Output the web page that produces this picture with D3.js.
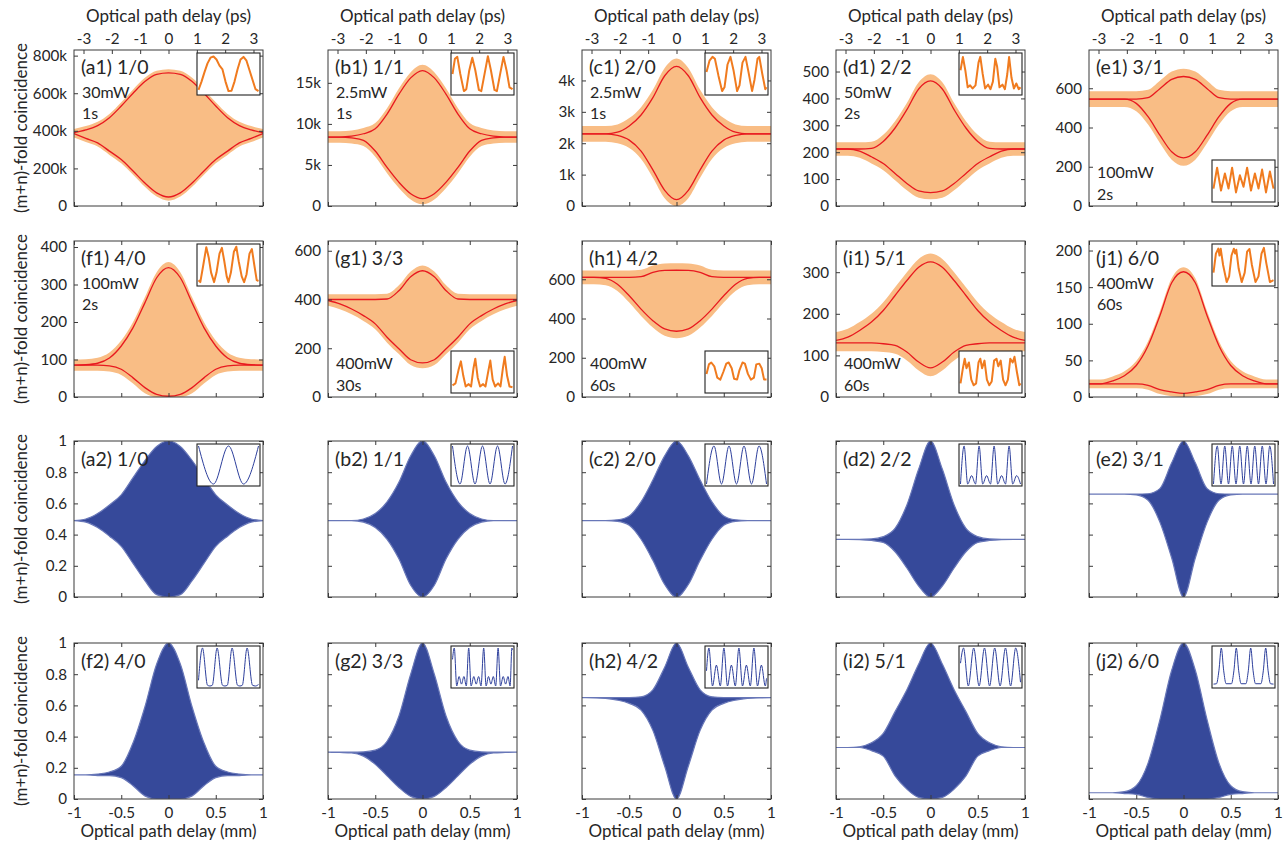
<!DOCTYPE html>
<html>
<head>
<meta charset="utf-8">
<script src="https://cdn.jsdelivr.net/npm/d3@7"></script>
<style>
body { margin: 0; background: #fff; }
svg { display: block; }
</style>
</head>
<body>
<svg id="fig" width="1284" height="846"></svg>
<script>
// optical path delay grid (mm) shared by every envelope below
var delayMm = [-1, -0.875, -0.75, -0.625, -0.5, -0.375, -0.25, -0.125, 0, 0.125, 0.25, 0.375, 0.5, 0.625, 0.75, 0.875, 1];
var mmTicks = [-1, -0.5, 0, 0.5, 1];
var psTicks = [-3, -2, -1, 0, 1, 2, 3];

// ---- measured panels: red envelope fits + spread of the raw counts ----
// a1, b1, c1 in thousands of counts
var a1Up = [390, 405, 428, 470, 532, 600, 662, 700, 708, 700, 662, 600, 532, 470, 428, 405, 390];
var a1Lo = [385, 360, 336, 292, 247, 186, 122, 70, 48, 70, 122, 186, 247, 292, 336, 360, 385];
var a1Noise = 20;
var b1Up = [8.4, 8.4, 8.5, 8.8, 9.4, 11.2, 13.6, 15.6, 16.5, 15.6, 13.6, 11.2, 9.4, 8.8, 8.5, 8.4, 8.4];
var b1Lo = [8.4, 8.4, 8.3, 8.0, 6.7, 4.7, 2.9, 1.5, 0.9, 1.5, 2.9, 4.7, 6.7, 8.0, 8.3, 8.4, 8.4];
var b1Noise = 0.7;
var c1Up = [2.3, 2.3, 2.3, 2.35, 2.55, 2.9, 3.45, 4.15, 4.45, 4.15, 3.45, 2.9, 2.55, 2.35, 2.3, 2.3, 2.3];
var c1Lo = [2.3, 2.3, 2.3, 2.25, 2.1, 1.75, 1.15, 0.5, 0.2, 0.5, 1.15, 1.75, 2.1, 2.25, 2.3, 2.3, 2.3];
var c1Noise = 0.25;
var d1Up = [212, 212, 212, 214, 240, 290, 358, 435, 465, 435, 358, 290, 240, 214, 212, 212, 212];
var d1Lo = [212, 212, 204, 183, 158, 121, 84, 56, 50, 56, 84, 121, 158, 183, 204, 212, 212];
var d1Noise = 25;
var e1Up = [545, 545, 545, 545, 545, 552, 598, 645, 660, 645, 598, 552, 545, 545, 545, 545, 545];
var e1Lo = [545, 545, 545, 545, 523, 455, 361, 276, 245, 276, 361, 455, 523, 545, 545, 545, 545];
var e1Noise = 40;
var f1Up = [85, 86, 90, 104, 136, 185, 251, 318, 345, 318, 251, 185, 136, 104, 90, 86, 85];
var f1Lo = [85, 85, 85, 83, 74, 51, 25, 7, 2, 7, 25, 51, 74, 83, 85, 85, 85];
var f1Noise = 15;
var g1Up = [400, 400, 400, 400, 400, 402, 436, 493, 518, 493, 436, 402, 400, 400, 400, 400, 400];
var g1Lo = [396, 382, 361, 334, 300, 245, 198, 153, 140, 153, 198, 245, 300, 334, 361, 382, 396];
var g1Noise = 22;
var h1Up = [610, 610, 610, 610, 610, 613, 635, 645, 646, 645, 635, 613, 610, 610, 610, 610, 610];
var h1Lo = [610, 610, 605, 575, 516, 448, 389, 347, 335, 347, 389, 448, 516, 575, 605, 610, 610];
var h1Noise = 35;
var i1Up = [136, 144, 160, 180, 208, 244, 280, 312, 325, 312, 280, 244, 208, 180, 160, 144, 136];
var i1Lo = [130, 130, 130, 130, 128, 124, 108, 84, 70, 84, 108, 124, 128, 130, 130, 130, 130];
var i1Noise = 20;
var j1Up = [18, 18, 22, 29, 43, 70, 111, 156, 171, 156, 111, 70, 43, 29, 22, 18, 18];
var j1Lo = [18, 18, 18, 18, 18, 16, 10, 7, 5, 7, 10, 16, 18, 18, 18, 18, 18];
var j1Noise = 6;

// ---- simulated panels: normalised envelopes ----
var a2Up = [0.49, 0.50, 0.535, 0.59, 0.655, 0.765, 0.875, 0.965, 1, 0.965, 0.875, 0.765, 0.655, 0.59, 0.535, 0.50, 0.49];
var a2Lo = [0.49, 0.48, 0.445, 0.39, 0.325, 0.215, 0.105, 0.015, 0, 0.015, 0.105, 0.215, 0.325, 0.39, 0.445, 0.48, 0.49];
var b2Up = [0.49, 0.49, 0.49, 0.50, 0.535, 0.61, 0.735, 0.905, 1, 0.905, 0.735, 0.61, 0.535, 0.50, 0.49, 0.49, 0.49];
var b2Lo = [0.49, 0.49, 0.49, 0.48, 0.445, 0.37, 0.245, 0.075, 0, 0.075, 0.245, 0.37, 0.445, 0.48, 0.49, 0.49, 0.49];
var c2Up = [0.49, 0.49, 0.49, 0.495, 0.52, 0.61, 0.75, 0.905, 1, 0.905, 0.75, 0.61, 0.52, 0.495, 0.49, 0.49, 0.49];
var c2Lo = [0.49, 0.49, 0.49, 0.485, 0.46, 0.37, 0.235, 0.08, 0, 0.08, 0.235, 0.37, 0.46, 0.485, 0.49, 0.49, 0.49];
var d2Up = [0.37, 0.37, 0.37, 0.372, 0.387, 0.44, 0.59, 0.82, 1, 0.82, 0.59, 0.44, 0.387, 0.372, 0.37, 0.37, 0.37];
var d2Lo = [0.37, 0.37, 0.368, 0.362, 0.35, 0.29, 0.186, 0.07, 0, 0.07, 0.186, 0.29, 0.35, 0.362, 0.368, 0.37, 0.37];
var e2Up = [0.66, 0.66, 0.66, 0.66, 0.66, 0.662, 0.695, 0.86, 1, 0.86, 0.695, 0.662, 0.66, 0.66, 0.66, 0.66, 0.66];
var e2Lo = [0.66, 0.66, 0.66, 0.66, 0.655, 0.62, 0.48, 0.25, 0, 0.25, 0.48, 0.62, 0.655, 0.66, 0.66, 0.66, 0.66];
var f2Up = [0.155, 0.155, 0.16, 0.173, 0.21, 0.36, 0.59, 0.865, 1, 0.865, 0.59, 0.36, 0.21, 0.173, 0.16, 0.155, 0.155];
var f2Lo = [0.155, 0.155, 0.15, 0.15, 0.137, 0.085, 0.02, 0, 0, 0, 0.02, 0.085, 0.137, 0.15, 0.15, 0.155, 0.155];
var g2Up = [0.30, 0.30, 0.30, 0.302, 0.313, 0.37, 0.53, 0.80, 1, 0.80, 0.53, 0.37, 0.313, 0.302, 0.30, 0.30, 0.30];
var g2Lo = [0.30, 0.298, 0.295, 0.275, 0.222, 0.148, 0.074, 0.017, 0, 0.017, 0.074, 0.148, 0.222, 0.275, 0.295, 0.298, 0.30];
var h2Up = [0.65, 0.65, 0.65, 0.65, 0.65, 0.655, 0.70, 0.845, 1, 0.845, 0.70, 0.655, 0.65, 0.65, 0.65, 0.65, 0.65];
var h2Lo = [0.65, 0.648, 0.645, 0.634, 0.613, 0.57, 0.44, 0.21, 0, 0.21, 0.44, 0.57, 0.613, 0.634, 0.645, 0.648, 0.65];
var i2Up = [0.33, 0.33, 0.335, 0.36, 0.42, 0.56, 0.70, 0.865, 1, 0.865, 0.70, 0.56, 0.42, 0.36, 0.335, 0.33, 0.33];
var i2Lo = [0.33, 0.33, 0.33, 0.31, 0.275, 0.148, 0.063, 0.01, 0, 0.01, 0.063, 0.148, 0.275, 0.31, 0.33, 0.33, 0.33];
var j2Up = [0.04, 0.04, 0.04, 0.047, 0.085, 0.23, 0.507, 0.825, 1, 0.825, 0.507, 0.23, 0.085, 0.047, 0.04, 0.04, 0.04];
var j2Lo = [0.04, 0.04, 0.04, 0.035, 0.03, 0.01, 0, 0, 0, 0, 0, 0.01, 0.03, 0.035, 0.04, 0.04, 0.04];

// ---- inset fringes [phase fraction, normalised counts] ----
var a1Inset = [[0,0.08],[0.05,0.3],[0.1,0.55],[0.15,0.78],[0.2,0.93],[0.25,0.96],[0.3,0.88],[0.35,0.72],[0.4,0.62],[0.45,0.3],[0.5,0.05],[0.55,0.06],[0.6,0.3],[0.65,0.62],[0.7,0.88],[0.75,0.95],[0.8,0.85],[0.85,0.6],[0.9,0.35],[0.95,0.1],[1,0.05]];
var b1Inset = [[0,0.5],[0.04,0.9],[0.08,0.95],[0.13,0.5],[0.19,0.05],[0.23,0.1],[0.28,0.6],[0.33,0.93],[0.38,0.6],[0.44,0.08],[0.48,0.05],[0.54,0.55],[0.59,0.97],[0.64,0.6],[0.7,0.08],[0.74,0.05],[0.8,0.55],[0.85,0.95],[0.9,0.6],[0.95,0.15],[1,0.1]];
var c1Inset = [[0,0.55],[0.05,0.85],[0.1,0.95],[0.14,0.9],[0.2,0.45],[0.26,0.05],[0.3,0.15],[0.35,0.75],[0.4,0.95],[0.45,0.6],[0.51,0.05],[0.55,0.2],[0.6,0.8],[0.65,0.95],[0.7,0.55],[0.76,0.05],[0.8,0.35],[0.85,0.9],[0.88,0.95],[0.93,0.5],[0.98,0.1],[1,0.15]];
var d1Inset = [[0,0.6],[0.04,0.95],[0.08,0.6],[0.12,0.15],[0.16,0.2],[0.2,0.12],[0.25,0.2],[0.3,0.8],[0.33,0.95],[0.37,0.5],[0.41,0.12],[0.46,0.22],[0.5,0.1],[0.54,0.3],[0.58,0.9],[0.61,0.7],[0.65,0.15],[0.7,0.22],[0.74,0.1],[0.78,0.5],[0.81,0.95],[0.85,0.4],[0.89,0.12],[0.93,0.25],[0.97,0.1],[1,0.15]];
var e1Inset = [[0,0.3],[0.06,0.85],[0.125,0.25],[0.19,0.7],[0.25,0.3],[0.31,0.85],[0.375,0.2],[0.44,0.65],[0.5,0.35],[0.56,0.85],[0.625,0.25],[0.69,0.7],[0.75,0.3],[0.81,0.8],[0.875,0.2],[0.94,0.75],[1,0.3]];
var f1Inset = [[0,0.1],[0.03,0.05],[0.08,0.5],[0.13,0.97],[0.17,0.7],[0.21,0.3],[0.26,0.05],[0.3,0.3],[0.35,0.8],[0.39,0.95],[0.43,0.6],[0.47,0.2],[0.5,0.05],[0.54,0.3],[0.59,0.85],[0.63,0.98],[0.67,0.6],[0.72,0.2],[0.76,0.05],[0.8,0.25],[0.85,0.8],[0.89,0.92],[0.93,0.5],[0.97,0.1],[1,0.08]];
var g1Inset = [[0,0.15],[0.05,0.2],[0.1,0.55],[0.14,0.78],[0.18,0.4],[0.22,0.12],[0.27,0.18],[0.31,0.12],[0.35,0.6],[0.38,0.85],[0.42,0.35],[0.46,0.12],[0.51,0.18],[0.55,0.12],[0.6,0.55],[0.63,0.8],[0.67,0.3],[0.71,0.12],[0.76,0.2],[0.8,0.12],[0.84,0.6],[0.87,0.9],[0.91,0.4],[0.95,0.12],[1,0.1]];
var h1Inset = [[0,0.45],[0.04,0.7],[0.08,0.75],[0.13,0.65],[0.18,0.35],[0.23,0.3],[0.28,0.5],[0.33,0.72],[0.37,0.75],[0.42,0.6],[0.46,0.32],[0.51,0.3],[0.55,0.55],[0.6,0.75],[0.64,0.72],[0.69,0.45],[0.74,0.3],[0.79,0.35],[0.83,0.7],[0.88,0.72],[0.92,0.6],[0.96,0.3],[1,0.3]];
var i1Inset = [[0,0.2],[0.04,0.6],[0.07,0.85],[0.1,0.6],[0.14,0.75],[0.18,0.3],[0.22,0.15],[0.26,0.2],[0.3,0.75],[0.33,0.85],[0.36,0.6],[0.4,0.8],[0.44,0.3],[0.48,0.15],[0.52,0.25],[0.56,0.8],[0.6,0.85],[0.63,0.65],[0.67,0.8],[0.71,0.3],[0.75,0.15],[0.79,0.3],[0.83,0.85],[0.87,0.75],[0.9,0.9],[0.94,0.5],[0.98,0.15],[1,0.2]];
var j1Inset = [[0,0.3],[0.04,0.8],[0.08,0.93],[0.1,0.75],[0.12,0.93],[0.16,0.5],[0.22,0.05],[0.26,0.2],[0.3,0.75],[0.34,0.93],[0.36,0.8],[0.38,0.9],[0.42,0.4],[0.47,0.05],[0.52,0.3],[0.56,0.85],[0.6,0.92],[0.64,0.5],[0.7,0.05],[0.75,0.2],[0.8,0.8],[0.84,0.95],[0.88,0.55],[0.94,0.05],[1,0.1]];

var a2Inset = [[0,1],[0.25,0],[0.5,1],[0.75,0],[1,1]];
var b2Inset = [[0,1],[0.125,0],[0.25,1],[0.375,0],[0.5,1],[0.625,0],[0.75,1],[0.875,0],[1,1]];
var c2Inset = [[0,0],[0.125,1],[0.25,0],[0.375,1],[0.5,0],[0.625,1],[0.75,0],[0.875,1],[1,0]];
var d2Inset = [[0,0],[0.06,1],[0.12,0],[0.185,0.22],[0.25,0],[0.31,1],[0.37,0],[0.435,0.22],[0.5,0],[0.56,1],[0.62,0],[0.685,0.22],[0.75,0],[0.81,1],[0.87,0],[0.935,0.22],[1,0]];
var e2Inset = [[0,0],[0.0625,1],[0.125,0],[0.1875,1],[0.25,0],[0.3125,1],[0.375,0],[0.4375,1],[0.5,0],[0.5625,1],[0.625,0],[0.6875,1],[0.75,0],[0.8125,1],[0.875,0],[0.9375,1],[1,0]];
var f2Inset = [[0,0.15],[0.066,1],[0.15,0.02],[0.19,0],[0.23,0.02],[0.31,1],[0.4,0.02],[0.44,0],[0.48,0.02],[0.56,1],[0.65,0.02],[0.69,0],[0.73,0.02],[0.81,1],[0.9,0.02],[0.95,0],[1,0.04]];
var g2Inset = [[0,0.7],[0.03,1],[0.07,0],[0.11,0.25],[0.15,0.05],[0.19,0.25],[0.23,0],[0.27,1],[0.31,0],[0.355,0.25],[0.395,0.05],[0.435,0.25],[0.475,0],[0.52,1],[0.56,0],[0.6,0.25],[0.64,0.05],[0.68,0.25],[0.72,0],[0.76,1],[0.8,0],[0.845,0.25],[0.885,0.05],[0.925,0.25],[0.96,0],[0.99,1],[1,0.95]];
var h2Inset = [[0,0.4],[0.04,1],[0.1,0],[0.165,0.55],[0.23,0],[0.29,1],[0.35,0],[0.415,0.55],[0.48,0],[0.54,1],[0.6,0],[0.665,0.55],[0.73,0],[0.79,1],[0.85,0],[0.915,0.55],[0.98,0],[1,0.2]];
var i2Inset = [[0,0.6],[0.05,1],[0.13,0],[0.22,1],[0.31,0],[0.4,1],[0.485,0],[0.57,1],[0.66,0],[0.75,1],[0.835,0],[0.92,1],[1,0.1]];
var j2Inset = [[0,0.05],[0.05,0.06],[0.09,0.4],[0.13,1],[0.17,0.4],[0.21,0.06],[0.3,0.06],[0.34,0.4],[0.38,1],[0.42,0.4],[0.46,0.06],[0.54,0.06],[0.58,0.4],[0.62,1],[0.66,0.4],[0.7,0.06],[0.79,0.06],[0.83,0.4],[0.87,1],[0.91,0.4],[0.95,0.06],[1,0.05]];

// panel tables built from the arrays above
var expPanels = [
  {id:"a1", col:0, row:0, name:"(a1) 1/0", notes:["30mW","1s"], at:"top", up:a1Up, lo:a1Lo, noise:a1Noise, yMax:830, yTicks:[0,200,400,600,800], unit:"k", inset:a1Inset, insetAt:"top"},
  {id:"b1", col:1, row:0, name:"(b1) 1/1", notes:["2.5mW","1s"], at:"top", up:b1Up, lo:b1Lo, noise:b1Noise, yMax:19, yTicks:[0,5,10,15], unit:"k", inset:b1Inset, insetAt:"top"},
  {id:"c1", col:2, row:0, name:"(c1) 2/0", notes:["2.5mW","1s"], at:"top", up:c1Up, lo:c1Lo, noise:c1Noise, yMax:4.97, yTicks:[0,1,2,3,4], unit:"k", inset:c1Inset, insetAt:"top"},
  {id:"d1", col:3, row:0, name:"(d1) 2/2", notes:["50mW","2s"], at:"top", up:d1Up, lo:d1Lo, noise:d1Noise, yMax:580, yTicks:[0,100,200,300,400,500], unit:"", inset:d1Inset, insetAt:"top"},
  {id:"e1", col:4, row:0, name:"(e1) 3/1", notes:["100mW","2s"], at:"bottom", up:e1Up, lo:e1Lo, noise:e1Noise, yMax:795, yTicks:[0,200,400,600], unit:"", inset:e1Inset, insetAt:"bottom"},
  {id:"f1", col:0, row:1, name:"(f1) 4/0", notes:["100mW","2s"], at:"top", up:f1Up, lo:f1Lo, noise:f1Noise, yMax:416, yTicks:[0,100,200,300,400], unit:"", inset:f1Inset, insetAt:"top"},
  {id:"g1", col:1, row:1, name:"(g1) 3/3", notes:["400mW","30s"], at:"bottom", up:g1Up, lo:g1Lo, noise:g1Noise, yMax:640, yTicks:[0,200,400,600], unit:"", inset:g1Inset, insetAt:"bottom"},
  {id:"h1", col:2, row:1, name:"(h1) 4/2", notes:["400mW","60s"], at:"bottom", up:h1Up, lo:h1Lo, noise:h1Noise, yMax:795, yTicks:[0,200,400,600], unit:"", inset:h1Inset, insetAt:"bottom"},
  {id:"i1", col:3, row:1, name:"(i1) 5/1", notes:["400mW","60s"], at:"bottom", up:i1Up, lo:i1Lo, noise:i1Noise, yMax:375, yTicks:[0,100,200,300], unit:"", inset:i1Inset, insetAt:"bottom"},
  {id:"j1", col:4, row:1, name:"(j1) 6/0", notes:["400mW","60s"], at:"top", up:j1Up, lo:j1Lo, noise:j1Noise, yMax:213, yTicks:[0,50,100,150,200], unit:"", inset:j1Inset, insetAt:"top"}
];
var simPanels = [
  {id:"a2", col:0, row:2, name:"(a2) 1/0", up:a2Up, lo:a2Lo, inset:a2Inset},
  {id:"b2", col:1, row:2, name:"(b2) 1/1", up:b2Up, lo:b2Lo, inset:b2Inset},
  {id:"c2", col:2, row:2, name:"(c2) 2/0", up:c2Up, lo:c2Lo, inset:c2Inset},
  {id:"d2", col:3, row:2, name:"(d2) 2/2", up:d2Up, lo:d2Lo, inset:d2Inset},
  {id:"e2", col:4, row:2, name:"(e2) 3/1", up:e2Up, lo:e2Lo, inset:e2Inset},
  {id:"f2", col:0, row:3, name:"(f2) 4/0", up:f2Up, lo:f2Lo, inset:f2Inset},
  {id:"g2", col:1, row:3, name:"(g2) 3/3", up:g2Up, lo:g2Lo, inset:g2Inset},
  {id:"h2", col:2, row:3, name:"(h2) 4/2", up:h2Up, lo:h2Lo, inset:h2Inset},
  {id:"i2", col:3, row:3, name:"(i2) 5/1", up:i2Up, lo:i2Lo, inset:i2Inset},
  {id:"j2", col:4, row:3, name:"(j2) 6/0", up:j2Up, lo:j2Lo, inset:j2Inset}
];

// layout
var colX = [74, 328, 582, 836, 1089];
var rowY = [50, 241, 441, 643];
var pw = 189, ph = 156;
var font = "Lato, 'Open Sans', 'DejaVu Sans', sans-serif";
var ink = "#262626";
var orangeFill = "#f9bd85", red = "#e8191f", insetOrange = "#f07b1f";
var blue = "#36499a", blueEdge = "#6877b8", insetBlue = "#2d3f9c";

var svg = d3.select("#fig");
var defs = svg.append("defs");

function styleAxis(sel, showText) {
  sel.select(".domain").remove();
  sel.selectAll(".tick line").attr("stroke", "#3a3a3a").attr("stroke-width", 1);
  sel.selectAll("text").attr("fill", ink).attr("font-family", font).attr("font-size", 15.2);
  if (!showText) sel.selectAll("text").remove();
}

function frame(g, x, y, yTicks, fmt, opt) {
  var tk = 4;
  styleAxis(g.append("g").call(d3.axisLeft(y).tickValues(yTicks).tickSizeInner(-tk).tickSizeOuter(0).tickPadding(7).tickFormat(fmt)), opt.yLabels);
  styleAxis(g.append("g").attr("transform", "translate(" + pw + ",0)")
    .call(d3.axisRight(y).tickValues(yTicks).tickSizeInner(-tk).tickSizeOuter(0)), false);
  styleAxis(g.append("g").attr("transform", "translate(0," + ph + ")")
    .call(d3.axisBottom(x).tickValues(mmTicks).tickSizeInner(-tk).tickSizeOuter(0).tickPadding(8).tickFormat(function(d){ return String(d); })), opt.xLabels);
  if (opt.psTop) {
    var ps = d3.scaleLinear().domain([-3.3356, 3.3356]).range([0, pw]);
    styleAxis(g.append("g").call(d3.axisTop(ps).tickValues(psTicks).tickSizeInner(-tk).tickSizeOuter(0).tickPadding(6).tickFormat(function(d){ return String(d); })), true);
    g.append("text").attr("x", pw / 2).attr("y", -28).attr("text-anchor", "middle")
      .attr("font-family", font).attr("font-size", 17).attr("fill", ink).text("Optical path delay (ps)");
  } else {
    styleAxis(g.append("g").call(d3.axisTop(x).tickValues(mmTicks).tickSizeInner(-tk).tickSizeOuter(0)), false);
  }
  if (opt.xLabels) {
    g.append("text").attr("x", pw / 2).attr("y", ph + 38).attr("text-anchor", "middle")
      .attr("font-family", font).attr("font-size", 17).attr("fill", ink).text("Optical path delay (mm)");
  }
  g.append("rect").attr("width", pw).attr("height", ph).attr("fill", "none")
    .attr("stroke", "#3a3a3a").attr("stroke-width", 1);
}

function drawInset(g, pts, at, color, lw, curve) {
  var iw = 63, ih = 42;
  var x0 = pw - iw - 3, y0 = at === "top" ? 3 : ph - ih - 4;
  var ig = g.append("g").attr("transform", "translate(" + x0 + "," + y0 + ")");
  ig.append("rect").attr("width", iw).attr("height", ih).attr("fill", "#fff");
  var ix = d3.scaleLinear().domain([0, 1]).range([1.5, iw - 1.5]);
  var iy = d3.scaleLinear().domain([0, 1]).range([ih - 2, 2]);
  ig.append("path").datum(pts).attr("fill", "none").attr("stroke", color).attr("stroke-width", lw)
    .attr("stroke-linejoin", "round")
    .attr("d", d3.line().curve(curve).x(function(d){ return ix(d[0]); }).y(function(d){ return iy(d[1]); }));
  ig.append("rect").attr("width", iw).attr("height", ih).attr("fill", "none")
    .attr("stroke", "#222").attr("stroke-width", 1.1);
}

function label(g, txt, x, y, size) {
  g.append("text").attr("x", x).attr("y", y).attr("font-family", font).attr("font-size", size)
    .attr("fill", ink).text(txt);
}

function yTitle(row) {
  var cy = rowY[row] + ph / 2;
  svg.append("text").attr("transform", "translate(27," + cy + ") rotate(-90)")
    .attr("text-anchor", "middle").attr("font-family", font).attr("font-size", 17)
    .attr("fill", ink).text("(m+n)-fold coincidence");
}

// measured rows
expPanels.forEach(function(p) {
  var g = svg.append("g").attr("transform", "translate(" + colX[p.col] + "," + rowY[p.row] + ")");
  var x = d3.scaleLinear().domain([-1, 1]).range([0, pw]);
  var y = d3.scaleLinear().domain([0, p.yMax]).range([ph, 0]);
  defs.append("clipPath").attr("id", "clip-" + p.id).append("rect").attr("width", pw).attr("height", ph);
  var plot = g.append("g").attr("clip-path", "url(#clip-" + p.id + ")");
  var pts = delayMm.map(function(d, i) { return {x: d, up: p.up[i], lo: p.lo[i]}; });

  plot.append("path").datum(pts).attr("fill", orangeFill)
    .attr("d", d3.area().curve(d3.curveMonotoneX)
      .x(function(d){ return x(d.x); })
      .y0(function(d){ return y(Math.max(0, d.lo - p.noise)); })
      .y1(function(d){ return y(d.up + p.noise); }));
  ["up", "lo"].forEach(function(k) {
    plot.append("path").datum(pts).attr("fill", "none").attr("stroke", red).attr("stroke-width", 1.3)
      .attr("d", d3.line().curve(d3.curveMonotoneX)
        .x(function(d){ return x(d.x); }).y(function(d){ return y(d[k]); }));
  });

  var fmt = function(d) { return d === 0 ? "0" : d + p.unit; };
  frame(g, x, y, p.yTicks, fmt, {yLabels: true, xLabels: false, psTop: p.row === 0});
  drawInset(g, p.inset, p.insetAt, insetOrange, 2, d3.curveLinear);

  label(g, p.name, 7, 24, 19.5);
  if (p.at === "top") {
    label(g, p.notes[0], 8, 48, 16);
    label(g, p.notes[1], 8, 69, 16);
  } else {
    label(g, p.notes[0], 8, ph - 28, 16);
    label(g, p.notes[1], 8, ph - 6, 16);
  }
});

// simulated rows
simPanels.forEach(function(p) {
  var g = svg.append("g").attr("transform", "translate(" + colX[p.col] + "," + rowY[p.row] + ")");
  var x = d3.scaleLinear().domain([-1, 1]).range([0, pw]);
  var y = d3.scaleLinear().domain([0, 1]).range([ph, 0]);
  defs.append("clipPath").attr("id", "clip-" + p.id).append("rect").attr("width", pw).attr("height", ph);
  var plot = g.append("g").attr("clip-path", "url(#clip-" + p.id + ")");
  var pts = delayMm.map(function(d, i) { return {x: d, up: p.up[i], lo: p.lo[i]}; });

  plot.append("path").datum(pts).attr("fill", blue).attr("stroke", blueEdge).attr("stroke-width", 1.2)
    .attr("stroke-linejoin", "round")
    .attr("d", d3.area().curve(d3.curveMonotoneX)
      .x(function(d){ return x(d.x); })
      .y0(function(d){ return y(d.lo); })
      .y1(function(d){ return y(d.up); }));

  frame(g, x, y, [0, 0.2, 0.4, 0.6, 0.8, 1], function(d){ return String(d); },
    {yLabels: p.col === 0, xLabels: p.row === 3, psTop: false});
  drawInset(g, p.inset, "top", insetBlue, 1, d3.curveMonotoneX);
  label(g, p.name, 7, 25, 19.5);
});

[0, 1, 2, 3].forEach(yTitle);
</script>
</body>
</html>
